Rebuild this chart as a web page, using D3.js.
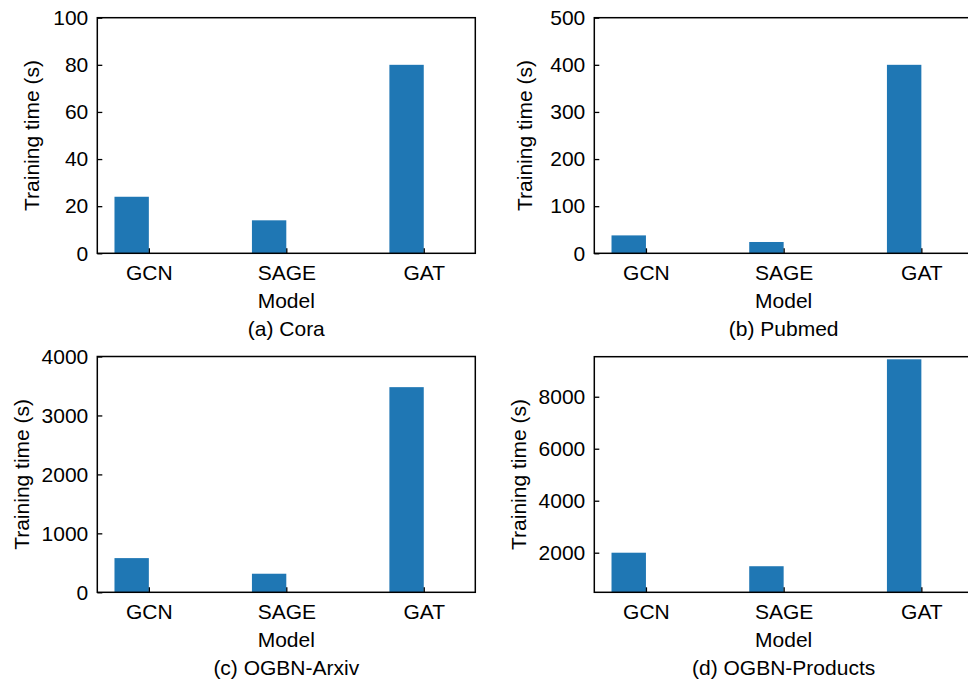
<!DOCTYPE html>
<html>
<head>
<meta charset="utf-8">
<script src="https://cdn.jsdelivr.net/npm/d3@7"></script>
<style>
  body { margin: 0; background: #fff; }
  svg text { font-family: "Liberation Sans", Arial, sans-serif; fill: #000; }
</style>
</head>
<body>
<div id="viz"></div>
<script>
// data
var models = ["GCN", "SAGE", "GAT"];
var coraTime = [24, 14, 80];
var pubmedTime = [38, 24, 400];
var arxivTime = [580, 315, 3480];
var productsTime = [2000, 1480, 9440];

var coraTicks = [0, 20, 40, 60, 80, 100];
var pubmedTicks = [0, 100, 200, 300, 400, 500];
var arxivTicks = [0, 1000, 2000, 3000, 4000];
var productsTicks = [2000, 4000, 6000, 8000];

var coraDomain = [0, 100];
var pubmedDomain = [0, 500];
var arxivDomain = [0, 4000];
var productsDomain = [477, 9540];

var subtitles = ["(a) Cora", "(b) Pubmed", "(c) OGBN-Arxiv", "(d) OGBN-Products"];

// layout of the four panels (pixels)
var panels = [
  {values: coraTime, ticks: coraTicks, domain: coraDomain, title: subtitles[0],
   left: 97.3, right: 475.3, top: 17.7, bottom: 253.3, ylabelX: 39},
  {values: pubmedTime, ticks: pubmedTicks, domain: pubmedDomain, title: subtitles[1],
   left: 594.3, right: 973, top: 17.7, bottom: 253.3, ylabelX: 532},
  {values: arxivTime, ticks: arxivTicks, domain: arxivDomain, title: subtitles[2],
   left: 97.3, right: 475.3, top: 356.5, bottom: 592.3, ylabelX: 28.6},
  {values: productsTime, ticks: productsTicks, domain: productsDomain, title: subtitles[3],
   left: 594.3, right: 973, top: 356.7, bottom: 592.3, ylabelX: 525.6}
];

var W = 968, H = 681;
var fontSize = "21px";
var barColor = "#1f77b4";

var svg = d3.select("#viz")
  .append("svg")
  .attr("width", W)
  .attr("height", H);

panels.forEach(function(p, k) {
  var x = d3.scaleLinear()
    .domain([-0.375, models.length - 1 + 0.375])
    .range([p.left, p.right]);
  var y = d3.scaleLinear()
    .domain(p.domain)
    .range([p.bottom, p.top]);

  var clipId = "clip" + k;
  svg.append("clipPath").attr("id", clipId)
    .append("rect")
    .attr("x", p.left).attr("y", p.top)
    .attr("width", p.right - p.left).attr("height", p.bottom - p.top);

  // bars sit just left of each tick
  svg.append("g").attr("clip-path", "url(#" + clipId + ")")
    .selectAll("rect")
    .data(p.values)
    .enter().append("rect")
    .attr("x", function(d, i) { return x(i - 0.25); })
    .attr("width", function(d, i) { return x(i) - x(i - 0.25); })
    .attr("y", function(d) { return y(d); })
    .attr("height", function(d) { return y(Math.min(0, p.domain[0])) - y(d); })
    .attr("fill", barColor);

  // y axis, ticks pointing inward
  var yAxis = svg.append("g")
    .attr("transform", "translate(" + p.left + ",0)")
    .call(d3.axisLeft(y).tickValues(p.ticks).tickFormat(d3.format("d"))
      .tickSizeInner(-5).tickSizeOuter(0).tickPadding(9));
  yAxis.select(".domain").remove();
  yAxis.selectAll("line").attr("stroke", "#000").attr("stroke-width", 1.3);
  yAxis.selectAll("text").style("font-size", fontSize);

  // x axis
  var xAxis = svg.append("g")
    .attr("transform", "translate(0," + p.bottom + ")")
    .call(d3.axisBottom(x).tickValues(d3.range(models.length))
      .tickFormat(function(i) { return models[i]; })
      .tickSizeInner(-5).tickSizeOuter(0).tickPadding(12));
  xAxis.select(".domain").remove();
  xAxis.selectAll("line").attr("stroke", "#000").attr("stroke-width", 1.3);
  xAxis.selectAll("text").style("font-size", fontSize);

  // frame
  svg.append("rect")
    .attr("x", p.left).attr("y", p.top)
    .attr("width", p.right - p.left).attr("height", p.bottom - p.top)
    .attr("fill", "none")
    .attr("stroke", "#000")
    .attr("stroke-width", 1.5);

  var cx = (p.left + p.right) / 2;

  svg.append("text")
    .attr("x", cx).attr("y", p.bottom + 54.5)
    .attr("text-anchor", "middle")
    .style("font-size", fontSize)
    .text("Model");

  svg.append("text")
    .attr("x", cx).attr("y", p.bottom + 83)
    .attr("text-anchor", "middle")
    .style("font-size", fontSize)
    .text(p.title);

  svg.append("text")
    .attr("transform", "translate(" + p.ylabelX + "," + ((p.top + p.bottom) / 2) + ") rotate(-90)")
    .attr("text-anchor", "middle")
    .style("font-size", fontSize)
    .text("Training time (s)");
});
</script>
</body>
</html>
